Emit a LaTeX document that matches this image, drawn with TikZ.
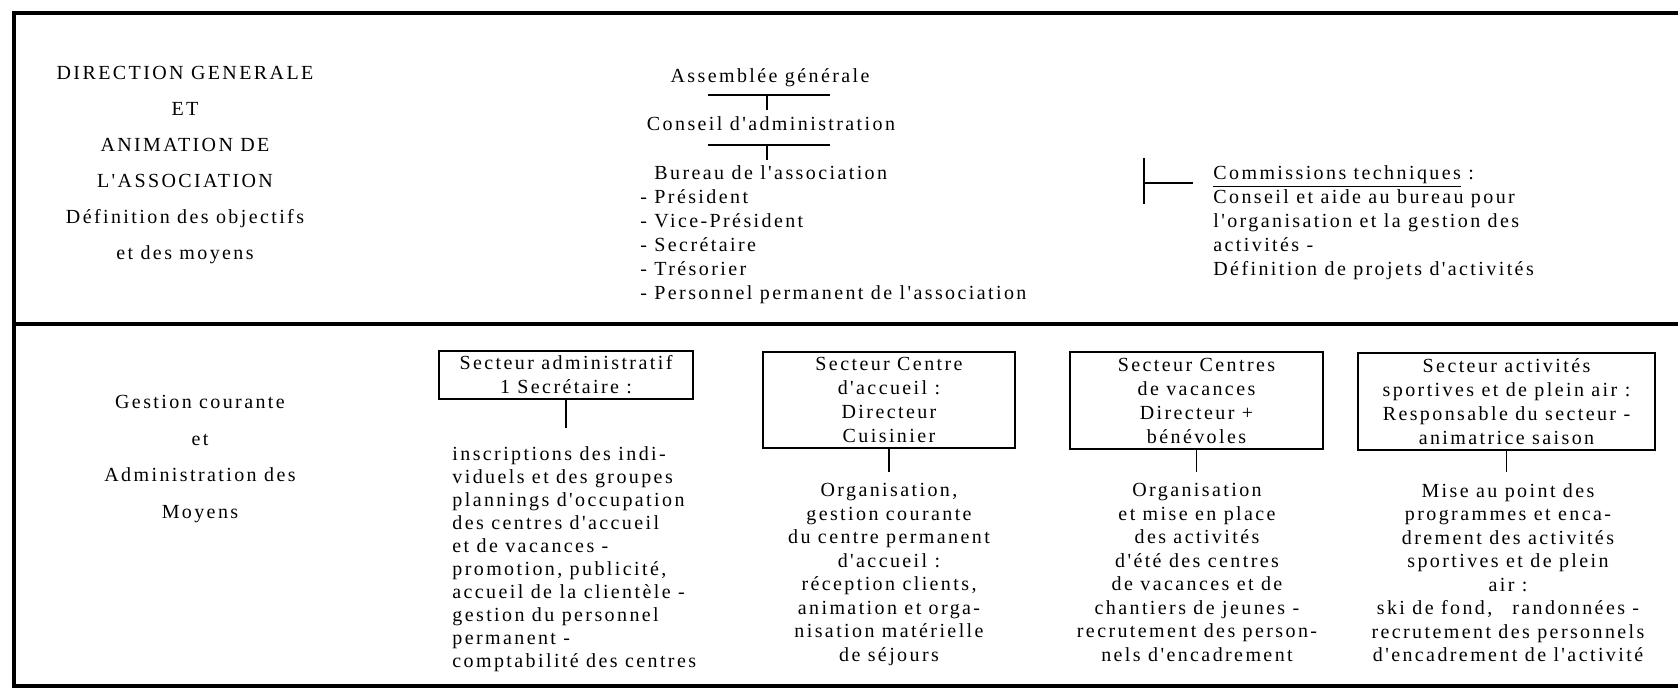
\documentclass[tikz,border=0pt]{standalone}
\usepackage{fontspec}
\setmainfont{Liberation Serif}[LetterSpace=12, Ligatures=TeXOff]

\begin{document}
\begin{tikzpicture}[x=0.5pt, y=-0.5pt,
	txt/.style={inner sep=0pt, font=\fontsize{10}{12}\selectfont},
	title/.style={txt, align=center, font=\fontsize{10}{18}\selectfont},
	sector/.style={txt, draw, line width=0.8pt, align=center},
	rule/.style={line width=1.6pt},
	link/.style={line width=0.9pt}]
	\useasboundingbox (0,0) rectangle (1678,691);
	% frame of the chart
	\coordinate (NW) at (14,13);
	\coordinate (SW) at (14,686);
	\coordinate (MW) at (14,324);
	\draw[rule] (1678,13) -- (NW) -- (SW) -- (1678,686);
	\draw[rule] (MW) -- (1678,324);

	% left column
	\node[title, anchor=north] (direction) at (185,66) {DIRECTION GENERALE\\ET\\ANIMATION DE\\L'ASSOCIATION\\Définition des objectifs\\et des moyens};
	\node[title, anchor=north, font=\fontsize{10}{18.3}\selectfont] (gestion) at (200,395) {Gestion courante\\et\\Administration des\\Moyens};

	% association
	\node[txt, anchor=north] (assemblee) at (770,68) {Assemblée générale};
	\node[txt, anchor=north] (conseil) at (771,116) {Conseil d'administration};
	\node[txt, anchor=north west, align=left] (bureau) at (640,165) {\phantom{- }Bureau de l'association\\- Président\\- Vice-Président\\- Secrétaire\\- Trésorier\\- Personnel permanent de l'association};
	\coordinate (bar1) at (767,95);
	\coordinate (bar2) at (767,145);
	\draw[link] ([xshift=-29.5pt]bar1) -- ([xshift=31.5pt]bar1);
	\draw[link, shorten >=3pt] (bar1) -- (bar1 |- conseil.north);
	\draw[link] ([xshift=-29.5pt]bar2) -- ([xshift=31.5pt]bar2);
	\draw[link, shorten >=2.5pt] (bar2) -- (bar2 |- bureau.north);

	\node[txt, anchor=north west, align=left] (commissions) at (1213,165) {\underline{Commissions techniques} :\\Conseil et aide au bureau pour\\l'organisation et la gestion des\\activités -\\Définition de projets d'activités};
	\coordinate (tee) at (1144,183);
	\draw[link] ([yshift=12.5pt]tee) -- ([yshift=-10.5pt]tee);
	\draw[link] (tee) -- ([xshift=-10pt]tee -| commissions.west);

	% sectors
	\node[sector, minimum width=127pt, minimum height=24pt] (admin) at (566,375) {Secteur administratif\\1 Secrétaire :};
	\node[sector, minimum width=126pt, minimum height=48pt] (accueil) at (889,400) {Secteur Centre\\d'accueil :\\Directeur\\Cuisinier};
	\node[sector, minimum width=126.5pt, minimum height=48.5pt] (vacances) at (1196.5,400.5) {Secteur Centres\\de vacances\\Directeur +\\bénévoles};
	\node[sector, minimum width=148.5pt, minimum height=48.5pt] (sport) at (1506.5,401.5) {Secteur activités\\sportives et de plein air :\\Responsable du secteur -\\animatrice saison};

	\node[txt, anchor=north west, align=left, font=\fontsize{10}{11.5}\selectfont] (adminjob) at (452,446) {inscriptions des indi-\\viduels et des groupes\\plannings d'occupation\\des centres d'accueil\\et de vacances -\\promotion, publicité,\\accueil de la clientèle -\\gestion du personnel\\permanent -\\comptabilité des centres};
	\node[txt, anchor=north, align=center, font=\fontsize{10}{11.75}\selectfont] (accueiljob) at (889,483) {Organisation,\\gestion courante\\du centre permanent\\d'accueil :\\réception clients,\\animation et orga-\\nisation matérielle\\de séjours};
	\node[txt, anchor=north, align=center, font=\fontsize{10}{11.75}\selectfont] (vacancesjob) at (1197,483) {Organisation\\et mise en place\\des activités\\d'été des centres\\de vacances et de\\chantiers de jeunes -\\recrutement des person-\\nels d'encadrement};
	\node[txt, anchor=north, align=center, font=\fontsize{10}{11.75}\selectfont] (sportjob) at (1508,483) {Mise au point des\\programmes et enca-\\drement des activités\\sportives et de plein\\air :\\ski de fond,\quad randonnées -\\recrutement des personnels\\d'encadrement de l'activité};

	\draw[link, shorten >=9pt] (admin.south) -- (admin.south |- adminjob.north);
	\draw[link, shorten >=5.5pt] (accueil.south) -- (accueil.south |- accueiljob.north);
	\draw[link, shorten >=5.5pt] (vacances.south) -- (vacances.south |- vacancesjob.north);
	\draw[link, shorten >=5.5pt] (sport.south) -- (sport.south |- sportjob.north);
\end{tikzpicture}
\end{document}
